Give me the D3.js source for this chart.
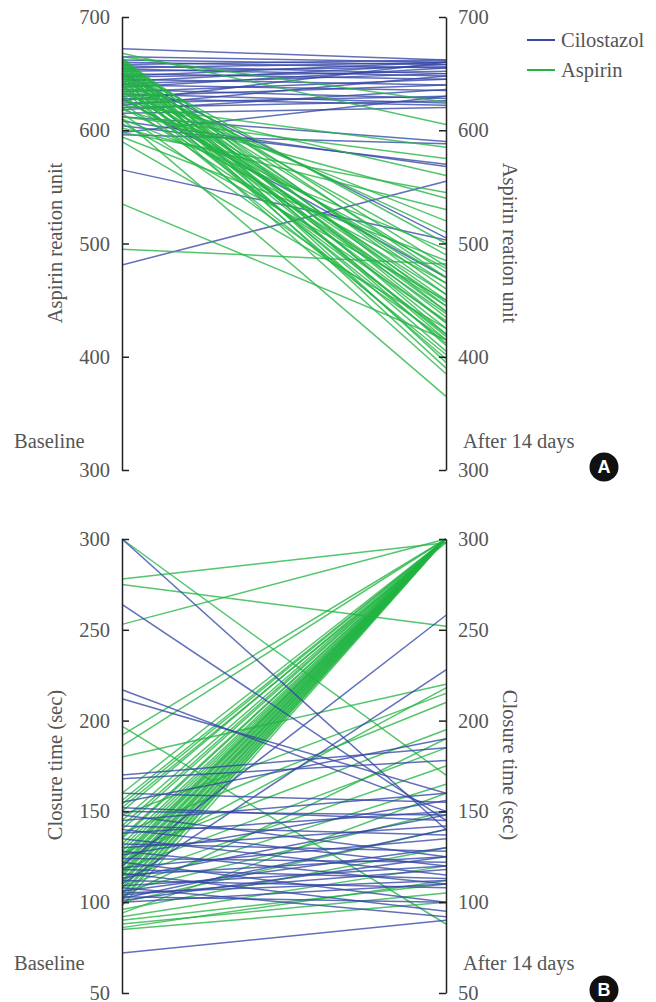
<!DOCTYPE html>
<html>
<head>
<meta charset="utf-8">
<script src="https://cdn.jsdelivr.net/npm/d3@7"></script>
<style>
  body { margin: 0; background: #fff; }
  svg text { font-family: "Liberation Serif", "Times New Roman", "DejaVu Serif", serif; fill: #555; }
</style>
</head>
<body>
<div id="main"></div>
<script>
// panel A: aspirin reaction unit, [baseline, after 14 days]
var aruCilostazol = [
  [672, 662], [665, 660], [662, 658], [660, 655], [658, 662], [657, 650], [655, 660],
  [654, 648], [652, 656], [650, 645], [648, 660], [647, 652], [645, 640], [643, 658],
  [641, 650], [640, 635], [638, 655], [636, 628], [634, 645], [632, 624], [630, 640],
  [628, 622], [626, 660], [624, 630], [622, 648], [620, 626], [618, 636], [615, 620],
  [612, 590], [608, 568], [604, 570], [598, 630], [596, 588], [650, 505], [628, 470],
  [565, 503], [481, 555]
];
var aruAspirin = [
  [668, 605], [665, 625], [664, 440], [663, 420], [662, 470], [661, 455], [660, 410],
  [660, 430], [659, 480], [658, 395], [657, 445], [656, 500], [655, 415], [655, 460],
  [654, 435], [653, 390], [652, 475], [651, 425], [650, 450], [650, 405], [649, 490],
  [648, 440], [647, 418], [646, 465], [645, 398], [644, 430], [643, 510], [642, 448],
  [641, 412], [640, 385], [639, 470], [638, 438], [636, 455], [635, 420], [633, 520],
  [632, 402], [630, 445], [628, 478], [626, 560], [624, 432], [622, 585], [620, 465],
  [618, 540], [615, 415], [612, 575], [610, 495], [606, 450], [602, 530], [598, 545],
  [594, 485], [590, 425], [610, 365], [535, 415], [495, 482]
];

// panel B: closure time (sec), [baseline, after 14 days]
var ctCilostazol = [
  [300, 140], [264, 145], [217, 150], [212, 160], [170, 185], [168, 178], [160, 155],
  [155, 190], [152, 145], [150, 148], [148, 125], [145, 160], [142, 137], [140, 120],
  [138, 150], [135, 115], [132, 128], [130, 142], [128, 110], [126, 156], [124, 122],
  [122, 100], [120, 258], [119, 135], [118, 113], [116, 95], [115, 125], [113, 148],
  [112, 108], [110, 228], [109, 120], [108, 92], [106, 130], [105, 112], [104, 118],
  [103, 100], [102, 140], [101, 125], [100, 110], [72, 90]
];
var ctAspirin = [
  [300, 170], [278, 298], [275, 252], [253, 300], [197, 88], [192, 300], [186, 300],
  [180, 220], [160, 300], [156, 300], [154, 300], [152, 298], [150, 300], [148, 215],
  [145, 300], [142, 300], [140, 300], [138, 210], [136, 300], [135, 300], [132, 300],
  [130, 300], [128, 300], [127, 195], [126, 300], [125, 300], [124, 300], [123, 300],
  [122, 218], [121, 300], [120, 300], [119, 300], [118, 185], [117, 300], [116, 300],
  [115, 300], [114, 300], [113, 175], [112, 300], [111, 300], [110, 300], [109, 165],
  [108, 300], [107, 300], [106, 150], [105, 300], [104, 300], [103, 190], [102, 300],
  [101, 300], [100, 140], [98, 300], [96, 130], [94, 160], [92, 120], [90, 110],
  [88, 105], [86, 112], [85, 100]
];

var aruTicks = [300, 400, 500, 600, 700];
var ctTicks = [50, 100, 150, 200, 250, 300];
var timeLabels = ["Baseline", "After 14 days"];
var groupNames = ["Cilostazol", "Aspirin"];

var blue = "#3446a6", green = "#23b544";
var fontSize = 20.5;
var serif = "'Liberation Serif', 'Times New Roman', 'DejaVu Serif', serif";

var svg = d3.select("#main").append("svg")
    .attr("width", 656)
    .attr("height", 1002);

var x0 = 122, x1 = 446;

function panel(cfg) {
    var y = d3.scaleLinear()
        .domain(cfg.domain)
        .range([cfg.bottom, cfg.top]);

    var x = d3.scalePoint()
        .domain(timeLabels)
        .range([x0, x1]);

    var g = svg.append("g");

    cfg.layers.forEach(function(layer) {
        g.append("g").selectAll("line")
            .data(layer.data)
            .enter().append("line")
            .attr("x1", x(timeLabels[0]))
            .attr("x2", x(timeLabels[1]))
            .attr("y1", function(d) { return y(d[0]); })
            .attr("y2", function(d) { return y(d[1]); })
            .attr("stroke", layer.color)
            .attr("stroke-width", 1.5)
            .attr("stroke-opacity", 0.78);
    });

    var left = g.append("g")
        .attr("transform", "translate(" + x0 + ",0)")
        .call(d3.axisLeft(y).tickValues(cfg.ticks).tickSizeInner(-7).tickSizeOuter(0).tickPadding(12));
    var right = g.append("g")
        .attr("transform", "translate(" + x1 + ",0)")
        .call(d3.axisRight(y).tickValues(cfg.ticks).tickSizeInner(-7).tickSizeOuter(0).tickPadding(12));

    [left, right].forEach(function(ax) {
        ax.attr("font-family", serif);
        ax.selectAll("path, line").attr("stroke", "#222").attr("stroke-width", 1.5);
        ax.selectAll("text").style("font-family", serif)
            .attr("font-size", fontSize).attr("fill", "#555");
    });

    var mid = (cfg.titleTop + cfg.titleBottom) / 2;
    g.append("text")
        .attr("transform", "translate(62," + mid + ") rotate(-90)")
        .attr("text-anchor", "middle")
        .attr("font-size", fontSize)
        .text(cfg.title);
    g.append("text")
        .attr("transform", "translate(503," + mid + ") rotate(90)")
        .attr("text-anchor", "middle")
        .attr("font-size", fontSize)
        .text(cfg.title);

    g.append("text")
        .attr("x", 14).attr("y", cfg.labelY)
        .attr("font-size", fontSize)
        .text(timeLabels[0]);
    g.append("text")
        .attr("x", 463).attr("y", cfg.labelY)
        .attr("font-size", fontSize)
        .text(timeLabels[1]);

    g.append("circle")
        .attr("cx", 604).attr("cy", cfg.badgeY).attr("r", 14.5)
        .attr("fill", "#111");
    g.append("text")
        .attr("x", 604).attr("y", cfg.badgeY)
        .attr("dy", "0.36em")
        .attr("text-anchor", "middle")
        .style("font-family", "'Liberation Sans', Arial, sans-serif")
        .style("font-weight", "bold")
        .style("fill", "#fff")
        .attr("font-size", 18)
        .text(cfg.badge);
}

panel({
    domain: [300, 700], top: 17, bottom: 470, ticks: aruTicks,
    title: "Aspirin reation unit", titleTop: 163, titleBottom: 323,
    labelY: 448, badge: "A", badgeY: 467,
    layers: [{data: aruCilostazol, color: blue}, {data: aruAspirin, color: green}]
});

panel({
    domain: [50, 300], top: 539, bottom: 993, ticks: ctTicks,
    title: "Closure time (sec)", titleTop: 690, titleBottom: 840,
    labelY: 970, badge: "B", badgeY: 990,
    layers: [{data: ctAspirin, color: green}, {data: ctCilostazol, color: blue}]
});

// legend
var legend = svg.append("g");
legend.selectAll("line")
    .data(groupNames)
    .enter().append("line")
    .attr("x1", 527).attr("x2", 555)
    .attr("y1", function(d, i) { return 40 + i * 30; })
    .attr("y2", function(d, i) { return 40 + i * 30; })
    .attr("stroke", function(d, i) { return i === 0 ? blue : green; })
    .attr("stroke-width", 2);
legend.selectAll("text")
    .data(groupNames)
    .enter().append("text")
    .attr("x", 561)
    .attr("y", function(d, i) { return 40 + i * 30; })
    .attr("dy", "0.33em")
    .attr("font-size", fontSize)
    .text(function(d) { return d; });
</script>
</body>
</html>
